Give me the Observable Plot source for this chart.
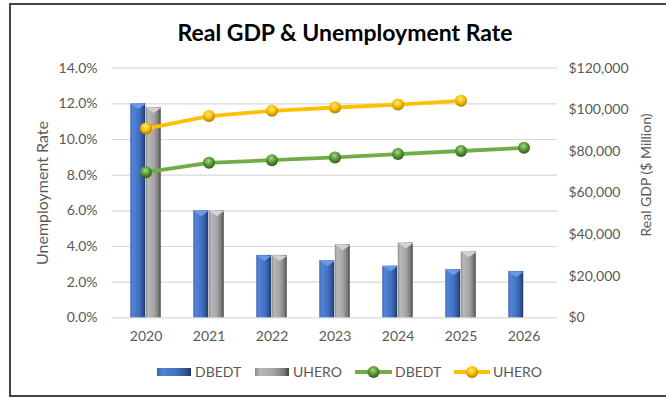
<!DOCTYPE html>
<html><head><meta charset="utf-8">
<script src="https://cdn.jsdelivr.net/npm/d3@7"></script>
<script src="https://cdn.jsdelivr.net/npm/@observablehq/plot@0.6"></script>
<style>
html,body{margin:0;padding:0;background:#fff;width:666px;height:398px;overflow:hidden;font-family:Lato,"Open Sans",sans-serif;}
#frame{position:absolute;left:9px;top:3px;width:700px;height:394px;border:2px solid #3b4452;box-sizing:border-box;}
#title{position:absolute;left:0;top:17px;width:690px;text-align:center;font-weight:bold;font-size:23px;color:#000;line-height:30px;}
#chart{position:absolute;left:0;top:50px;}
#legend{position:absolute;left:0;top:362px;}
</style></head>
<body>
<div id="frame"></div>
<div id="title">Real GDP &amp; Unemployment Rate</div>
<div id="chart"></div>
<svg id="legend" width="666" height="22"></svg>
<script>
const years = ["2020","2021","2022","2023","2024","2025","2026"];
const unempDBEDT = [12.0, 6.0, 3.5, 3.2, 2.9, 2.7, 2.6];
const unempUHERO = [11.8, 6.0, 3.5, 4.1, 4.2, 3.7, null];
const gdpDBEDT = [70000, 74500, 75800, 77100, 78700, 80200, 81700];
const gdpUHERO = [91000, 97000, 99500, 101100, 102500, 104300, null];
const leftTicks = [0, 2, 4, 6, 8, 10, 12, 14];
const rightTicks = [0, 20000, 40000, 60000, 80000, 100000, 120000];
const leftMax = 14, rightMax = 120000;
const toLeft = v => v * leftMax / rightMax;

const barsD = years.map((y,i)=>({year:y, v:unempDBEDT[i]})).filter(d=>d.v!=null);
const barsU = years.map((y,i)=>({year:y, v:unempUHERO[i]})).filter(d=>d.v!=null);
const lineD = years.map((y,i)=>({year:y, v:gdpDBEDT[i]})).filter(d=>d.v!=null);
const lineU = years.map((y,i)=>({year:y, v:gdpUHERO[i]})).filter(d=>d.v!=null);

const W = 666, H = 300, mL = 112, mR = 109, mT = 17.7, mB = 32.7;
const bw = (W - mL - mR) / years.length;
const half = bw / 2, barW = 15.5;

// bevel cap symbol: downward triangle spanning the bar width
const bevel = {draw(ctx) { const h = barW / 2; ctx.moveTo(-h, 0); ctx.lineTo(h, 0); ctx.lineTo(0, 5.5); ctx.closePath(); }};

const plot = Plot.plot({
  width: W, height: H,
  marginLeft: mL, marginRight: mR, marginTop: mT, marginBottom: mB,
  style: {fontFamily: "Lato, 'Open Sans', sans-serif", fontSize: "14px", color: "#595959", background: "transparent"},
  x: {type: "band", domain: years, padding: 0, axis: null},
  y: {domain: [0, leftMax], axis: null},
  marks: [
    Plot.gridY(leftTicks, {stroke: "#d9d9d9", strokeOpacity: 1, strokeWidth: 1.2}),
    Plot.axisY(leftTicks, {anchor: "left", tickSize: 0, tickPadding: 15, tickFormat: d => d.toFixed(1) + "%", label: null, fontSize: 14}),
    Plot.axisY(rightTicks.map(toLeft), {anchor: "right", tickSize: 0, tickPadding: 11, tickFormat: v => "$" + d3.format(",")(Math.round(v * rightMax / leftMax)), label: null, fontSize: 14}),
    Plot.axisX(years, {anchor: "bottom", tickSize: 0, tickPadding: 13, label: null, fontSize: 14}),
    Plot.barY(barsD, {x: "year", y: "v", fill: "url(#gBlue)", insetLeft: half - barW, insetRight: half}),
    Plot.barY(barsU, {x: "year", y: "v", fill: "url(#gGray)", insetLeft: half, insetRight: half - barW}),
    Plot.dot(barsD, {x: "year", y: "v", dx: -barW / 2, symbol: bevel, r: 3, fill: "#6d9ae6", stroke: null}),
    Plot.dot(barsU, {x: "year", y: "v", dx: barW / 2, symbol: bevel, r: 3, fill: "#d2d2d2", stroke: null}),
    Plot.line(lineU, {x: "year", y: d => toLeft(d.v), stroke: "#ffc000", strokeWidth: 3.8}),
    Plot.line(lineD, {x: "year", y: d => toLeft(d.v), stroke: "#70ad47", strokeWidth: 3.8}),
    Plot.dot(lineU, {x: "year", y: d => toLeft(d.v), r: 6, fill: "url(#rGold)", stroke: null}),
    Plot.dot(lineD, {x: "year", y: d => toLeft(d.v), r: 6, fill: "url(#rGreen)", stroke: null}),
    Plot.text(["Unemployment Rate"], {frameAnchor: "left", textAnchor: "middle", dx: -70, dy: 0, rotate: -90, fontSize: 16, fill: "#595959"}),
    Plot.text(["Real GDP ($ Million)"], {frameAnchor: "right", textAnchor: "middle", dx: 89, dy: -18, rotate: -90, fontSize: 14, fill: "#595959"})
  ]
});

const defsMarkup = `
<linearGradient id="gBlue" x1="0" x2="1" y1="0" y2="0">
  <stop offset="0" stop-color="#3a64b0"/><stop offset="0.15" stop-color="#5283d6"/>
  <stop offset="0.55" stop-color="#4472c4"/><stop offset="0.85" stop-color="#2f5597"/>
  <stop offset="1" stop-color="#1b3263"/></linearGradient>
<linearGradient id="gGray" x1="0" x2="1" y1="0" y2="0">
  <stop offset="0" stop-color="#8c8c8c"/><stop offset="0.15" stop-color="#b8b8b8"/>
  <stop offset="0.55" stop-color="#a5a5a5"/><stop offset="0.85" stop-color="#7a7a7a"/>
  <stop offset="1" stop-color="#3f3f3f"/></linearGradient>
<radialGradient id="rGold" cx="0.45" cy="0.35" r="0.65">
  <stop offset="0" stop-color="#ffe98a"/><stop offset="0.5" stop-color="#ffc000"/>
  <stop offset="1" stop-color="#a87c00"/></radialGradient>
<radialGradient id="rGreen" cx="0.45" cy="0.35" r="0.65">
  <stop offset="0" stop-color="#a6d98a"/><stop offset="0.5" stop-color="#5c9a3a"/>
  <stop offset="1" stop-color="#2e5a1b"/></radialGradient>`;
const ns = "http://www.w3.org/2000/svg";
const defs = document.createElementNS(ns, "defs");
defs.innerHTML = defsMarkup;
plot.insertBefore(defs, plot.firstChild);
document.getElementById("chart").appendChild(plot);

// legend
const lg = d3.select("#legend");
const ld = lg.append("defs");
ld.html(defsMarkup.replace(/id="(\w+)"/g, 'id="L$1"'));
const cy = 10;
const items = [
  {type: "bar", x: 157, w: 34, fill: "url(#LgBlue)", label: "DBEDT", tx: 195},
  {type: "bar", x: 255, w: 34, fill: "url(#LgGray)", label: "UHERO", tx: 293},
  {type: "line", x: 355, w: 37, stroke: "#70ad47", fill: "url(#LrGreen)", label: "DBEDT", tx: 395},
  {type: "line", x: 454, w: 36, stroke: "#ffc000", fill: "url(#LrGold)", label: "UHERO", tx: 493}
];
items.forEach(it => {
  if (it.type === "bar") {
    lg.append("rect").attr("x", it.x).attr("y", cy - 4).attr("width", it.w).attr("height", 8).attr("fill", it.fill);
  } else {
    lg.append("line").attr("x1", it.x).attr("x2", it.x + it.w).attr("y1", cy).attr("y2", cy).attr("stroke", it.stroke).attr("stroke-width", 3.8);
    lg.append("circle").attr("cx", it.x + it.w / 2).attr("cy", cy).attr("r", 6).attr("fill", it.fill);
  }
  lg.append("text").attr("x", it.tx).attr("y", cy).attr("dy", "0.35em").attr("fill", "#595959")
    .style("font-family", "Lato, 'Open Sans', sans-serif").style("font-size", "14px").text(it.label);
});
</script>
</body></html>
